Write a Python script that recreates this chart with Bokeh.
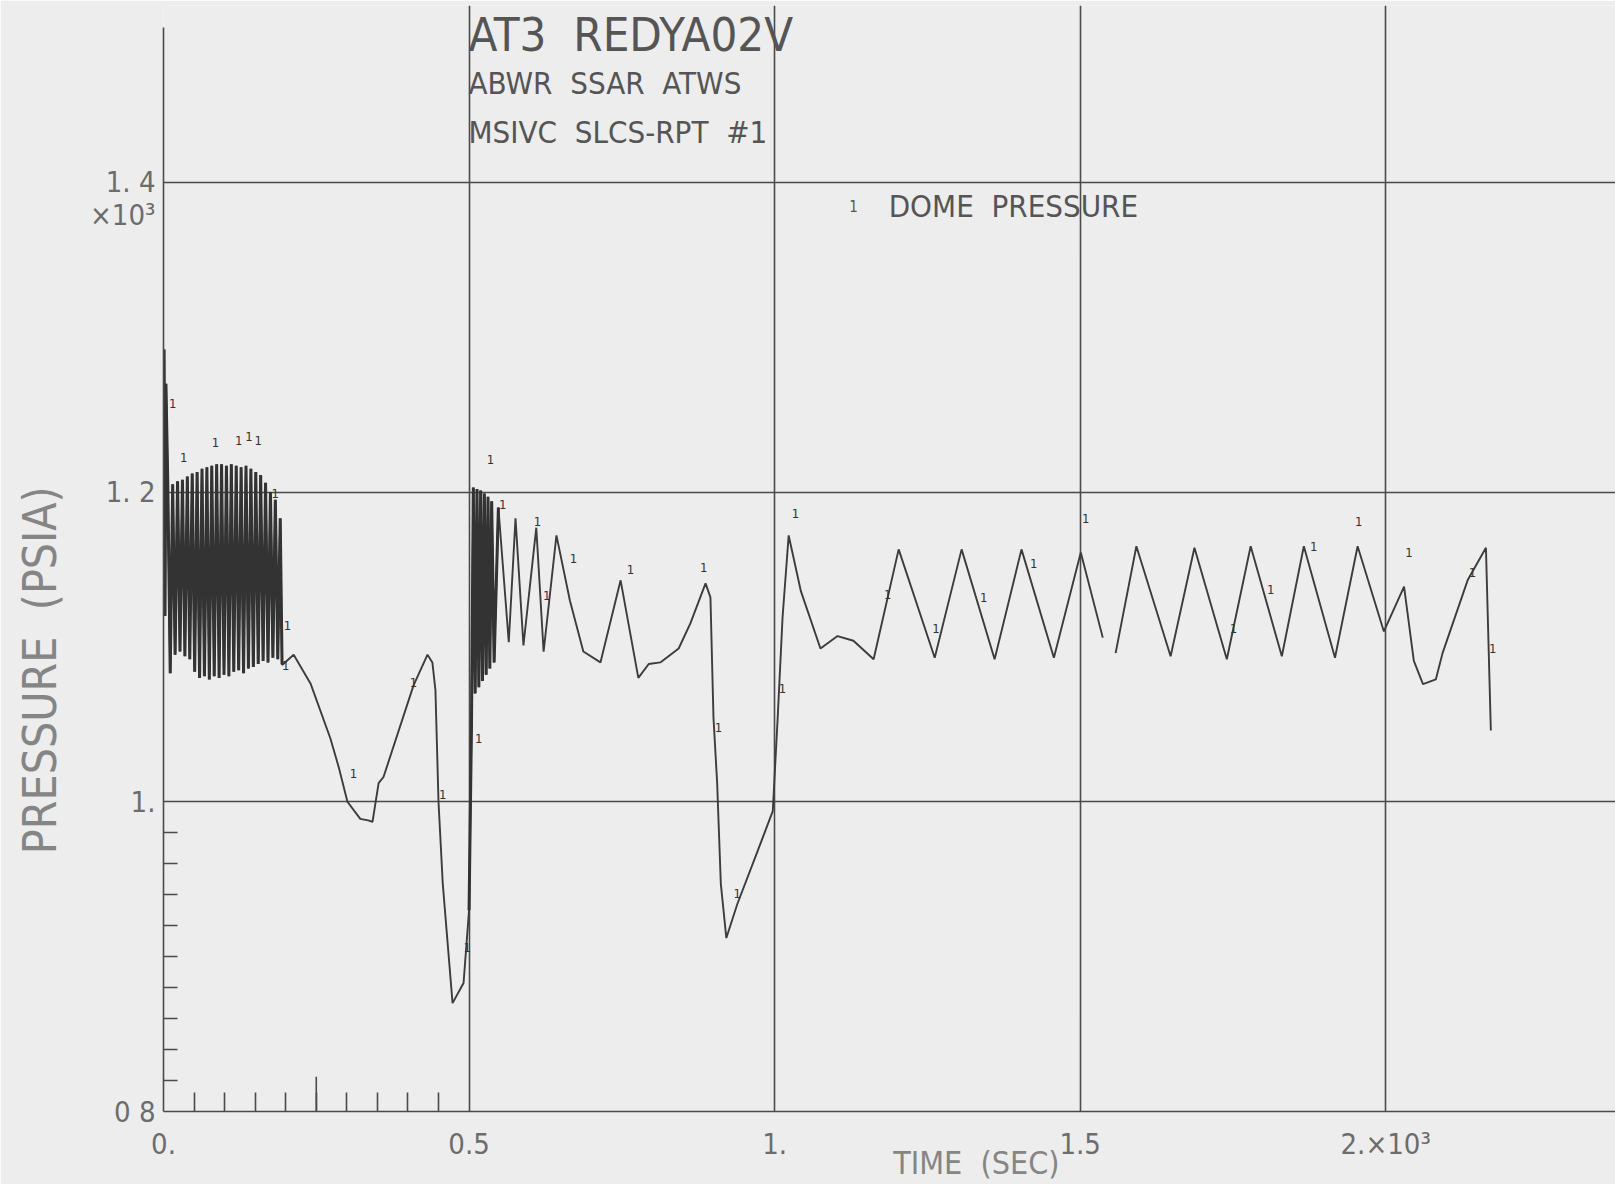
import math
from bokeh.plotting import figure
from bokeh.models import Range1d, FixedTicker, Label, LinearAxis
from bokeh.core.properties import value
from bokeh.embed import file_html
from bokeh.resources import INLINE

NAN = float("nan")
SP = "\u00a0"

# ---- data (time in 10^3 s, pressure in 10^3 psia) ----
time_s = [
    0.000, 0.001, 0.0025, 0.004, 0.007, 0.011, 0.015, 0.019, 0.023, 0.027,
    0.031, 0.035, 0.039, 0.043, 0.047, 0.051, 0.055, 0.059, 0.063, 0.067,
    0.071, 0.075, 0.079, 0.083, 0.087, 0.091, 0.095, 0.099, 0.103, 0.107,
    0.111, 0.115, 0.119, 0.123, 0.127, 0.131, 0.135, 0.139, 0.143, 0.147,
    0.151, 0.155, 0.159, 0.163, 0.167, 0.171, 0.175, 0.179, 0.183, 0.187,
    0.191, 0.194,
    0.196, 0.213, 0.241, 0.273, 0.287, 0.301, 0.322, 0.335, 0.342, 0.352,
    0.360, 0.409, 0.432, 0.440, 0.445, 0.450, 0.457, 0.473, 0.491, 0.500,
    0.504,
    0.507, 0.510, 0.513, 0.516, 0.519, 0.522, 0.525, 0.528, 0.531, 0.534,
    0.537, 0.541, 0.548, 0.565, 0.576, 0.589, 0.610, 0.622, 0.643, 0.665,
    0.687, 0.715, 0.748, 0.777, 0.794, 0.813, 0.843, 0.862, 0.887, 0.895,
    0.900, 0.906, 0.912, 0.921, 0.939, 0.972, 0.997, 1.005, 1.013, 1.023,
    1.043, 1.075, 1.103, 1.129, 1.162, 1.203, 1.262, 1.306, 1.360, 1.404,
    1.457, 1.501, 1.537, NAN, 1.558, 1.592, 1.648, 1.687, 1.740, 1.779,
    1.830, 1.866, 1.917, 1.954, 1.997, 2.030, 2.046, 2.061, 2.082, 2.093,
    2.134, 2.164, 2.172,
]
dome_pressure = [
    1.140, 1.292, 1.120, 1.270, 1.206, 1.083, 1.205, 1.095, 1.207, 1.097,
    1.208, 1.094, 1.210, 1.092, 1.212, 1.084, 1.213, 1.080, 1.215, 1.081,
    1.216, 1.079, 1.217, 1.081, 1.218, 1.080, 1.218, 1.082, 1.217, 1.081,
    1.218, 1.084, 1.217, 1.085, 1.216, 1.083, 1.217, 1.086, 1.215, 1.087,
    1.213, 1.089, 1.211, 1.091, 1.206, 1.090, 1.200, 1.093, 1.195, 1.092,
    1.183, 1.089,
    1.089, 1.095, 1.076, 1.041, 1.022, 1.000, 0.989, 0.988, 0.987, 1.012,
    1.016, 1.075, 1.095, 1.090, 1.072, 1.000, 0.947, 0.870, 0.883, 0.930,
    1.050,
    1.203, 1.070, 1.202, 1.074, 1.201, 1.078, 1.199, 1.082, 1.197, 1.086,
    1.194, 1.090, 1.190, 1.103, 1.183, 1.101, 1.177, 1.097, 1.172, 1.130,
    1.097, 1.090, 1.143, 1.080, 1.089, 1.090, 1.099, 1.115, 1.141, 1.132,
    1.054, 1.012, 0.947, 0.912, 0.934, 0.968, 0.994, 1.054, 1.119, 1.172,
    1.136, 1.099, 1.107, 1.104, 1.092, 1.163, 1.093, 1.163, 1.092, 1.163,
    1.093, 1.161, 1.106, NAN, 1.096, 1.165, 1.094, 1.164, 1.092, 1.165,
    1.094, 1.165, 1.093, 1.165, 1.110, 1.139, 1.091, 1.076, 1.079, 1.096,
    1.143, 1.164, 1.046,
]

# curve identification symbols "1" placed along the curve by the plotter
symbol_t = [0.015, 0.033, 0.085, 0.123, 0.140, 0.155, 0.183, 0.203, 0.200,
            0.311, 0.409, 0.457, 0.497, 0.516, 0.535, 0.555, 0.612, 0.627,
            0.671, 0.764, 0.884, 0.908, 0.939, 1.013, 1.034, 1.185, 1.264,
            1.342, 1.424, 1.509, 1.751, 1.812, 1.882, 1.956, 2.038, 2.142,
            2.175]
symbol_p = [1.257, 1.222, 1.232, 1.233, 1.236, 1.233, 1.199, 1.114, 1.088,
            1.018, 1.077, 1.005, 0.906, 1.041, 1.221, 1.192, 1.181, 1.133,
            1.157, 1.150, 1.151, 1.048, 0.941, 1.073, 1.186, 1.134, 1.112,
            1.132, 1.154, 1.183, 1.112, 1.137, 1.165, 1.181, 1.161, 1.148,
            1.099]

# densely oscillating stretches of the record (drawn heavier, as plotted)
dense_spans = [(0.0, 0.196), (0.500, 0.548)]

x_major = [0.0, 0.5, 1.0, 1.5, 2.0]
x_labels = ["0.", "0.5", "1.", "1.5", "2.\u00d710\u00b3"]
x_minor = [0.05, 0.10, 0.15, 0.20, 0.25, 0.30, 0.35, 0.40, 0.45]
x_tall_minor = [0.25]
y_major = [0.8, 1.0, 1.2, 1.4]
y_labels = ["0 8", "1.", "1. 2", "1. 4"]
y_minor = [0.82, 0.84, 0.86, 0.88, 0.90, 0.92, 0.94, 0.96, 0.98]
y_exponent_at = 1.379
y_exponent_label = "\u00d710\u00b3"

title_lines = ["AT3" + SP * 2 + "REDYA02V",
               "ABWR" + SP * 2 + "SSAR" + SP * 2 + "ATWS",
               "MSIVC" + SP * 2 + "SLCS-RPT" + SP * 2 + "#1"]
legend_text = "DOME" + SP * 2 + "PRESSURE"
# axis titles are padded with no-break spaces so that the centred text sits
# where the original plotter put it (off the frame centre)
y_title = "PRESSURE" + SP * 2 + "(PSIA)" + SP * 17
x_title = SP * 19 + "TIME" + SP * 2 + "(SEC)"

# ---- styling ----
FONT = "'Liberation Sans Narrow', 'DejaVu Sans Condensed', 'Roboto', sans-serif"
BG = "#ededed"
INK = "#4a4a4a"
TXT = "#6c6c6c"

p = figure(width=1615, height=1184,
           x_range=Range1d(0, 2.376), y_range=Range1d(0.8, 1.5142),
           output_backend="svg", toolbar_location=None,
           min_border_left=163, min_border_right=0,
           min_border_top=5, min_border_bottom=72)
p.background_fill_color = BG
p.border_fill_color = BG
p.outline_line_color = None

p.xaxis.ticker = FixedTicker(ticks=x_major, minor_ticks=x_minor)
p.yaxis.ticker = FixedTicker(ticks=y_major + [y_exponent_at], minor_ticks=y_minor)
p.xaxis.major_label_overrides = dict(zip(x_major, x_labels))
p.yaxis.major_label_overrides = dict(zip(y_major + [y_exponent_at],
                                         y_labels + [y_exponent_label]))
p.xgrid.ticker = FixedTicker(ticks=x_major)
p.ygrid.ticker = FixedTicker(ticks=y_major)
p.yaxis.bounds = (0.8, 1.5)

for ax in (p.xaxis, p.yaxis):
    ax.axis_line_color = INK
    ax.axis_line_width = 1.6
    ax.major_tick_in = 0
    ax.major_tick_out = 0
    ax.minor_tick_out = 0
    ax.minor_tick_line_color = INK
    ax.minor_tick_line_width = 1.6
    ax.major_label_text_font = FONT
    ax.major_label_text_font_size = "29px"
    ax.major_label_text_color = TXT
p.xaxis.minor_tick_in = 19
p.yaxis.minor_tick_in = 14
p.xaxis.major_label_standoff = 15
p.yaxis.major_label_standoff = 8

# x title as the x axis label
p.xaxis.axis_label = x_title
p.xaxis.axis_label_text_font = FONT
p.xaxis.axis_label_text_font_size = "32px"
p.xaxis.axis_label_text_font_style = "normal"
p.xaxis.axis_label_text_color = "#858585"
p.xaxis.axis_label_standoff = -20

# y title on an extra (invisible) left axis
yt = LinearAxis(ticker=FixedTicker(ticks=[]),
                axis_label=y_title, axis_label_text_font=FONT,
                axis_label_text_font_size="46px",
                axis_label_text_font_style="normal",
                axis_label_text_color="#858585", axis_label_standoff=20,
                axis_line_alpha=0, major_tick_out=0, major_tick_in=0,
                minor_tick_out=0, minor_tick_in=0, major_label_standoff=0)
p.add_layout(yt, "left")

p.xgrid.grid_line_color = INK
p.ygrid.grid_line_color = INK
p.xgrid.grid_line_width = 1.6
p.ygrid.grid_line_width = 1.6

# taller minor tick at 0.25
p.segment(x0=x_tall_minor, y0=[0.8], x1=x_tall_minor, y1=[0.8225],
          line_color=INK, line_width=1.6)

# the curve
p.line(time_s, dome_pressure, line_color="#3c3c3c", line_width=1.9)
for a, b in dense_spans:
    dense = [v if (a <= t <= b) else NAN for t, v in zip(time_s, dome_pressure)]
    p.line(time_s, dense, line_color="#333333", line_width=3.0)

# curve symbols
p.text(x=symbol_t, y=symbol_p, text=["1"] * len(symbol_t),
       text_font=value(FONT), text_font_size="13px", text_color="#333333",
       text_align="center", text_baseline="middle")

# titles
title_y = [1.4955, 1.4639, 1.4323]
title_sz = ["47px", "31px", "31px"]
for t, yy, sz in zip(title_lines, title_y, title_sz):
    p.add_layout(Label(x=0.499, y=yy, text=t, text_font=FONT,
                       text_font_size=sz, text_color="#555555",
                       text_baseline="alphabetic"))

# legend
p.add_layout(Label(x=1.129, y=1.3847, text="1", text_font=FONT,
                   text_font_size="15px", text_color="#555555",
                   text_align="center", text_baseline="alphabetic"))
p.add_layout(Label(x=1.1866, y=1.3848, text=legend_text, text_font=FONT,
                   text_font_size="31px", text_color="#555555",
                   text_baseline="alphabetic"))

open("out.html", "w").write(file_html(p, INLINE))
